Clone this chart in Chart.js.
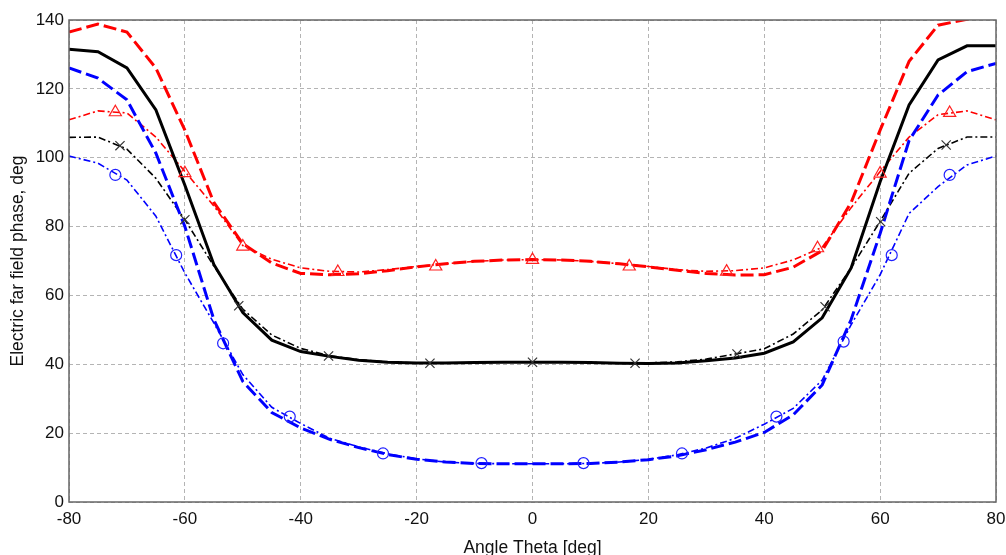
<!DOCTYPE html>
<html>
<head>
<meta charset="utf-8">
<script src="https://cdn.jsdelivr.net/npm/chart.js@4/dist/chart.umd.min.js"></script>
<style>
html,body{margin:0;padding:0;background:#fff;overflow:hidden;}
#c{display:block;}
</style>
</head>
<body>
<canvas id="c" width="1006" height="555"></canvas>
<script>
// Sample angles (deg)
const angles = [-80,-75,-70,-65,-60,-55,-50,-45,-40,-35,-30,-25,-20,-15,-10,-5,0,5,10,15,20,25,30,35,40,45,50,55,60,65,70,75,80];

// Thick lines
const redThick   = [136.5,138.8,136.5,126,108,87,75,69.4,66.4,66,66.3,67.2,68.3,69.2,69.9,70.3,70.4,70.3,69.9,69.2,68.3,67.3,66.4,65.9,66,68.2,73,87,108,128,138.5,140.2,141.5];
const blackThick = [131.5,130.8,126.1,113.9,92,69,55,47,43.7,42.3,41.2,40.6,40.4,40.4,40.5,40.6,40.6,40.6,40.5,40.3,40.2,40.4,41,41.8,43.2,46.5,53.5,68,93,115.3,128.4,132.5,132.5];
const blueThick  = [126.1,123.1,116.8,101.3,80,53,35,26,21.5,18.2,15.8,13.8,12.4,11.6,11.2,11.1,11.1,11.1,11.2,11.6,12.3,13.4,15.2,17.4,20.2,25.3,34,53,78,105,118.2,125,127.4];

// Thin dash-dot lines
const redThin   = [111,113.6,113,106,96,86,74.5,70.5,68,67,66.8,67.5,68.4,69.2,69.9,70.3,70.4,70.3,69.9,69.2,68.4,67.5,67,67.2,68,70.3,74,85.5,96,106,112.5,113.6,111];
const blackThin = [105.9,106,102.5,94,82,68.5,56,48.5,44.6,42.5,41.3,40.7,40.4,40.4,40.5,40.6,40.6,40.6,40.5,40.4,40.4,40.7,41.5,43,44.5,48.8,55.8,68,81.5,95.5,102.7,106,106];
const blueThin  = [100.5,98.4,93.5,83,66.5,52,37,27.5,22.8,18.5,16,14,12.5,11.6,11.2,11.1,11.1,11.1,11.2,11.6,12.4,13.7,15.7,18.5,22.6,27.2,35.4,51.5,66,83.8,91.6,97.9,100.5];

// Marker positions
const triX   = [-72,-60,-50,-33.6,-16.7,0,16.7,33.5,49.2,60,72];
const triY   = [113.2,95.5,74.2,66.8,68.4,70.3,68.4,66.9,73.7,95.4,113];
const crossX = [-71.2,-60,-50.7,-35.2,-17.7,0,17.7,35.3,50.5,60.1,71.4];
const crossY = [103.5,82,57,42.4,40.3,40.6,40.3,43,56.7,81.4,103.7];
const circX  = [-72,-61.5,-53.4,-41.9,-25.8,-8.8,8.8,25.8,42.1,53.7,62,72];
const circY  = [95,71.7,46.1,24.8,14.1,11.3,11.3,14.1,24.8,46.6,71.7,95];

// Axis ticks
const xTicks = [-80,-60,-40,-20,0,20,40,60,80];
const yTicks = [0,20,40,60,80,100,120,140];

const pts = (xs, ys) => xs.map((x, i) => ({x: x, y: ys[i]}));

const thinDash = [7,3,2,3];
const thickDash = [13,5];

function lineDs(data, color, width, dash, order) {
  return {data: pts(angles, data), borderColor: color, borderWidth: width, borderDash: dash,
    pointRadius: 0, showLine: true, fill: false, tension: 0, order: order};
}
function markDs(xs, ys, style, color, r, order) {
  return {data: pts(xs, ys), showLine: false, pointStyle: style, pointRadius: r,
    pointBorderColor: color, pointBackgroundColor: 'rgba(0,0,0,0)', pointBorderWidth: 1.2, order: order};
}

const boxPlugin = {
  id: 'box',
  afterDraw(chart) {
    const a = chart.chartArea, ctx = chart.ctx;
    ctx.save();
    ctx.strokeStyle = '#666';
    ctx.lineWidth = 1.5;
    ctx.strokeRect(a.left, a.top, a.right - a.left, a.bottom - a.top);
    ctx.restore();
  }
};

const font = {family: "'Liberation Sans', Arial, sans-serif", size: 17};

new Chart(document.getElementById('c'), {
  type: 'scatter',
  data: {
    datasets: [
      lineDs(blueThin, '#0000ff', 1.6, thinDash, 6),
      lineDs(blackThin, '#000000', 1.6, thinDash, 5),
      lineDs(redThin, '#ff0000', 1.6, thinDash, 4),
      lineDs(blueThick, '#0000ff', 3, thickDash, 3),
      lineDs(blackThick, '#000000', 3, [], 2),
      lineDs(redThick, '#ff0000', 3, thickDash, 1),
      markDs(triX, triY, 'triangle', '#ff2020', 7, 0),
      markDs(crossX, crossY, 'crossRot', '#333333', 6.5, 0),
      markDs(circX, circY, 'circle', '#2020ff', 5.5, 0)
    ]
  },
  options: {
    responsive: false,
    animation: false,
    layout: {padding: {left: 9, right: 10, top: 20, bottom: 0}},
    plugins: {legend: {display: false}, tooltip: {enabled: false}},
    scales: {
      x: {
        type: 'linear', min: -80, max: 80,
        afterFit: s => { s.height = 53; s.paddingLeft = 0; s.paddingRight = 0; },
        afterBuildTicks: s => { s.ticks = xTicks.map(v => ({value: v})); },
        grid: {color: '#b4b4b4', lineWidth: 1, drawTicks: false},
        border: {display: false, dash: [4,3]},
        ticks: {font: font, color: '#111', padding: 7, maxRotation: 0},
        title: {display: true, text: 'Angle Theta [deg]', color: '#111',
          font: {family: font.family, size: 17.5, lineHeight: 1}, padding: {top: 0, bottom: -2}}
      },
      y: {
        type: 'linear', min: 0, max: 140,
        afterFit: s => { s.width = 60; s.paddingTop = 0; s.paddingBottom = 0; },
        afterBuildTicks: s => { s.ticks = yTicks.map(v => ({value: v})); },
        grid: {color: '#b4b4b4', lineWidth: 1, drawTicks: false},
        border: {display: false, dash: [4,3]},
        ticks: {font: font, color: '#111', padding: 5},
        title: {display: true, text: 'Electric far field phase, deg', color: '#111',
          font: {family: font.family, size: 17.5, lineHeight: 1}, padding: {top: 0, bottom: 0}}
      }
    }
  },
  plugins: [boxPlugin]
});
</script>
</body>
</html>
